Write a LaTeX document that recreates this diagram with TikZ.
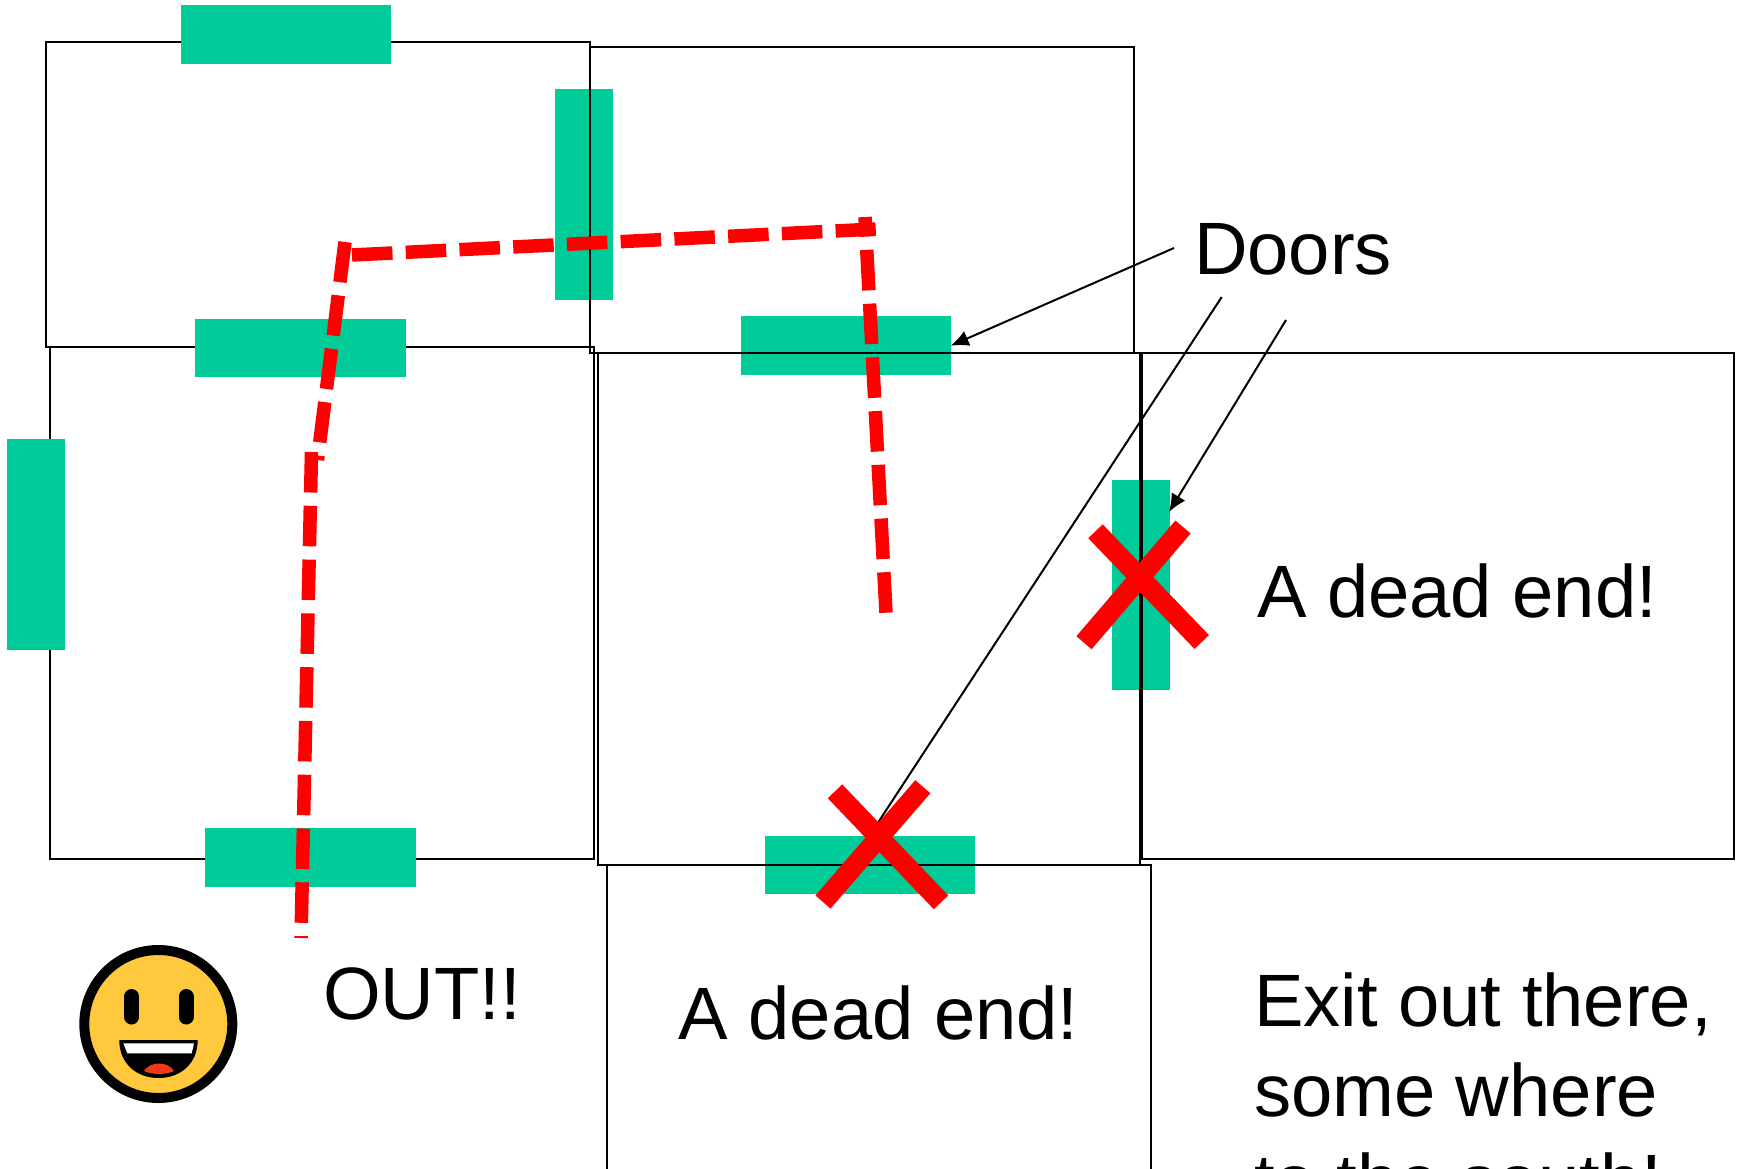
\documentclass[tikz,border=0pt]{standalone}
\usepackage{xcolor}
\usepackage{fontspec}
\setmainfont{Liberation Sans}
\usepackage{tikz}
\usetikzlibrary{arrows.meta}
\usetikzlibrary{positioning}
\definecolor{doorgreen}{HTML}{00CC99}
\definecolor{faceyellow}{HTML}{FFC83D}
\definecolor{tonguered}{HTML}{F03A17}
\tikzstyle{room} = [rectangle, draw=black, line width=2pt, inner sep=0pt, outer sep=0pt]
\tikzstyle{doorh} = [rectangle, fill=doorgreen, inner sep=0pt, outer sep=0pt, minimum width=210.3pt, minimum height=58.3pt]
\tikzstyle{doorv} = [rectangle, fill=doorgreen, inner sep=0pt, outer sep=0pt, minimum width=58.3pt, minimum height=210.3pt]
\tikzstyle{route} = [draw=red, line width=13.5pt, dash pattern=on 40.5pt off 13.3pt]
\tikzstyle{cross} = [draw=red, line width=20pt]
\tikzstyle{pointer} = [-{Latex[length=18pt,width=16pt]}, draw=black, line width=2pt]
\tikzstyle{caption} = [anchor=base west, inner sep=0pt, outer sep=0pt, text=black, font=\fontsize{74.2}{90}\selectfont]

\begin{document}
\begin{tikzpicture}[x=1pt, y=-1pt]
\useasboundingbox (0, 0) rectangle (1747, 1169);
\clip (0, 0) rectangle (1747, 1169);
\node [room, minimum width=544pt, minimum height=304.7pt] (hall) at (318, 194.6) {};
\node [room, minimum width=543.7pt, minimum height=512.3pt] (west) at (322.15, 603.15) {};
\node [doorh] (doorN) at (285.85, 34.5) {};
\node [doorv] (doorE) at (584.2, 194.5) {};
\node [doorh] (doorS) at (300.6, 348.3) {};
\node [doorh] (doorM) at (846, 345.5) {};
\node [doorv] (doorW) at (36.2, 544.5) {};
\node [doorh] (doorOut) at (310.6, 857.5) {};
\node [doorh] (doorLow) at (870, 865.2) {};
\node [doorv] (doorSide) at (1141, 584.7) {};
\node [room, minimum width=544pt, minimum height=305.7pt] (north) at (862, 199.85) {};
\node [room, minimum width=542.5pt, minimum height=512.3pt] (centre) at (869, 608.85) {};
\node [room, minimum width=591.8pt, minimum height=506.3pt] (east) at (1437.9, 605.85) {};
\node [room, minimum width=544pt, minimum height=512pt] (south) at (879.2, 1121) {};

\coordinate (r1) at (311.5, 452);
\coordinate (r2) at (301, 938);
\coordinate (r3) at (345, 242);
\coordinate (r4) at (317.5, 460);
\coordinate (r5) at (352, 255);
\coordinate (r6) at (875.7, 229);
\coordinate (r7) at (886, 612.7);
\coordinate (r8) at (865, 217);
\draw [route] (r1) -- (r2);
\draw [route] (r3) -- (r4);
\draw [route] (r5) -- (r6);
\draw [route] (r7) -- (r8);

\coordinate (a1) at (1174, 248);
\coordinate (a2) at (950.7, 345.7);
\coordinate (a3) at (1221.7, 297);
\coordinate (a4) at (866, 841);
\coordinate (a5) at (1286, 320);
\coordinate (a6) at (1169, 512);
\draw [pointer] (a1) -- (a2);
\draw [pointer] (a3) -- (a4);
\draw [pointer] (a5) -- (a6);

\coordinate (x1) at (835, 791.3);
\coordinate (x2) at (941, 902.3);
\coordinate (x3) at (922.8, 786.7);
\coordinate (x4) at (823, 902);
\coordinate (x5) at (1095.5, 531.3);
\coordinate (x6) at (1201.7, 642);
\coordinate (x7) at (1183, 527);
\coordinate (x8) at (1084, 642.7);
\draw [cross] (x1) -- (x2);
\draw [cross] (x3) -- (x4);
\draw [cross] (x5) -- (x6);
\draw [cross] (x7) -- (x8);

\node [caption] (doors) at (1194, 274) {Doors};
\node [caption] (out) at (323, 1019) {OUT!!};
\node [caption] (deadS) at (678.5, 1039) {A dead end!};
\node [caption] (deadE) at (1257, 617) {A dead end!};
\node [caption, align=left] (exit) at (1254, 1206) {Exit out there,\\some where\\to the south!};

\node [circle, draw=black, fill=faceyellow, line width=10pt, minimum size=148pt, inner sep=0pt, outer sep=0pt] (face) at (158.3, 1024) {};
\draw [black, line width=15pt, line cap=round] (131.7, 996.5) -- (131.7, 1017);
\draw [black, line width=15pt, line cap=round] (186, 996.5) -- (186, 1017);
\fill [black] (119.3, 1040) -- (197.7, 1040) .. controls (197.7, 1064) and (180, 1078) .. (158.5, 1078) .. controls (137, 1078) and (119.3, 1064) .. cycle;
\fill [white] (123.3, 1043.3) -- (194, 1043.3) -- (191.7, 1053.3) -- (127.3, 1053.3) -- cycle;
\fill [tonguered] (144, 1071) .. controls (150, 1061) and (168, 1061) .. (174, 1071) .. controls (165, 1075) and (153, 1075) .. cycle;
\end{tikzpicture}
\end{document}
